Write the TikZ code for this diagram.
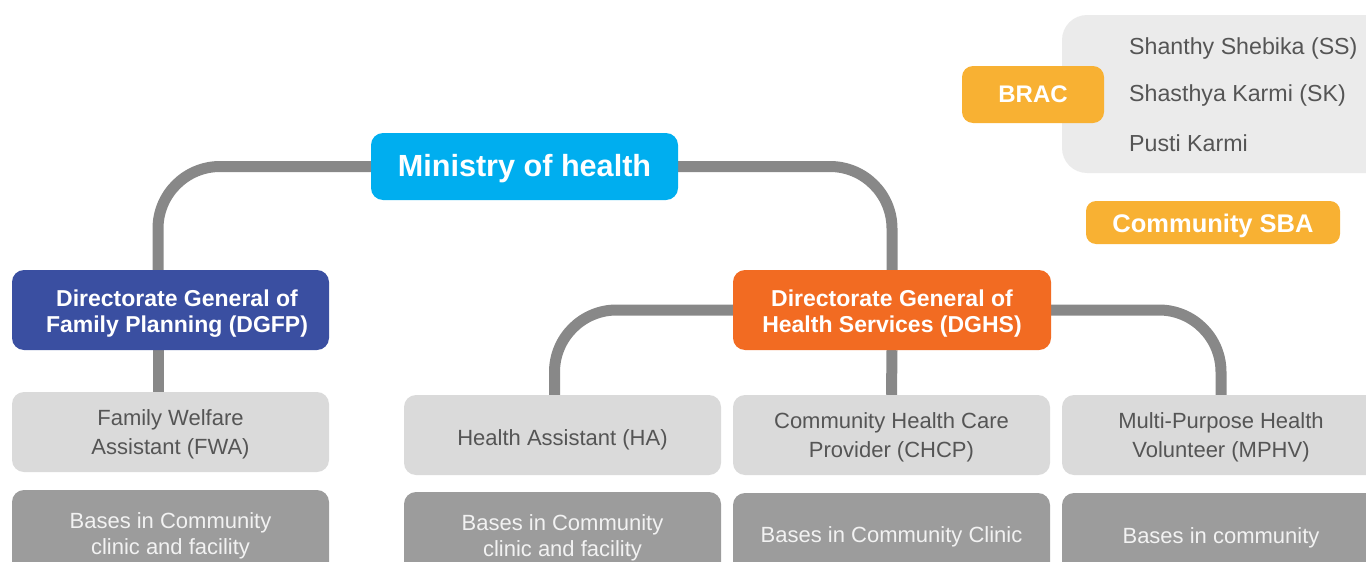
\documentclass[tikz,border=0pt]{standalone}
\usepackage{fontspec}
\setmainfont{Liberation Sans}
\usetikzlibrary{backgrounds}

\definecolor{mohcyan}{HTML}{00AEEF}
\definecolor{fpblue}{HTML}{3A4FA1}
\definecolor{hsorange}{HTML}{F26B22}
\definecolor{bracgold}{HTML}{F8B133}
\definecolor{rolegray}{HTML}{DADADA}
\definecolor{basegray}{HTML}{9C9C9C}
\definecolor{panelgray}{HTML}{EBEBEB}
\definecolor{linkgray}{HTML}{888888}
\definecolor{roletext}{HTML}{555555}
\definecolor{basetext}{HTML}{F2F2F2}

% a taller first line, which lowers the text in its box by #1
\newcommand{\lowerby}[1]{\rule{0pt}{\dimexpr0.74em+2\dimexpr#1\relax\relax}}

\tikzset{
  box/.style={rectangle, rounded corners=12pt, inner sep=0pt, align=center,
    minimum width=317pt},
  head/.style={box, minimum height=80pt, text=white,
    font=\fontsize{23}{26}\selectfont\bfseries},
  role/.style={box, fill=rolegray, minimum height=80pt, text=roletext,
    font=\fontsize{22}{29}\selectfont},
  base/.style={box, fill=basegray, minimum height=84pt, text=basetext,
    font=\fontsize{22}{26}\selectfont},
  tag/.style={rectangle, rounded corners=11pt, inner sep=0pt, fill=bracgold,
    text=white},
  item/.style={anchor=west, inner sep=0pt, text=roletext,
    font=\fontsize{23.2}{27}\selectfont},
  link/.style={draw=linkgray, line width=11pt, rounded corners=62pt},
}

\begin{document}
\begin{tikzpicture}[x=1pt, y=-1pt]
  \useasboundingbox (0,0) rectangle (1366,562);
  \clip (0,0) rectangle (1366,562);

  % top level
  \node[box, fill=mohcyan, minimum width=307pt, minimum height=67pt, text=white,
        font=\fontsize{30.6}{36}\selectfont\bfseries] (moh) at (524.5,166.5) {\lowerby{2pt}Ministry of health};

  % directorates
  \node[head, fill=fpblue] (dgfp) at (170.5,310)
    {\lowerby{3pt}\hspace*{13pt}Directorate General of\\\hspace*{13pt}Family Planning (DGFP)};
  \node[head, fill=hsorange, minimum width=318pt] (dghs) at (892,310)
    {\lowerby{3pt}Directorate General of\\Health Services (DGHS)};

  % field workers
  \node[role] (fwa)  at (170.5,432) {\lowerby{2.5pt}Family Welfare\\Assistant (FWA)};
  \node[role] (ha)   at (562.5,435) {\lowerby{5pt}Health Assistant (HA)};
  \node[role] (chcp) at (891.5,435) {\lowerby{2.5pt}Community Health Care\\Provider (CHCP)};
  \node[role, minimum width=318pt] (mphv) at (1221,435) {\lowerby{2.5pt}Multi-Purpose Health\\Volunteer (MPHV)};

  % where they are based
  \node[base] (fwab)  at (170.5,532) {\lowerby{3.5pt}Bases in Community\\clinic and facility};
  \node[base] (hab)   at (562.5,534) {\lowerby{3.5pt}Bases in Community\\clinic and facility};
  \node[base] (chcpb) at (891.5,535) {\lowerby{1.5pt}Bases in Community Clinic};
  \node[base, minimum width=318pt] (mphvb) at (1221,535) {\lowerby{2.5pt}Bases in community};

  % BRAC workers
  \node[rectangle, rounded corners=25pt, fill=panelgray, minimum width=338pt,
        minimum height=158pt, inner sep=0pt] (panel) at (1231,94) {};
  \node[tag, minimum width=142pt, minimum height=57pt,
        font=\fontsize{24}{28}\selectfont\bfseries] (brac) at (1033,94.5) {BRAC};
  \node[item] (ss) at (1129,49) {Shanthy Shebika (SS)};
  \node[item] (sk) at (1129,96) {Shasthya Karmi (SK)};
  \node[item] (pk) at (1129,143) {Pusti Karmi};

  \node[tag, rounded corners=10pt, minimum width=254pt, minimum height=43pt,
        font=\fontsize{25.5}{30}\selectfont\bfseries] (sba) at (1213,222.5) {\lowerby{3pt}Community SBA};

  % connectors
  \begin{scope}[on background layer]
    \draw[link] (moh.west) -| ([xshift=-12.5pt]dgfp.north);
    \draw[link] (moh.east) -| (dghs.north);
    \draw[link] ([xshift=-12.5pt]dgfp.south) -- ([xshift=-12.5pt]fwa.north);
    \draw[link] (dghs.west) -| ([xshift=-8pt]ha.north);
    \draw[link] (dghs.east) -| (mphv.north);
    \draw[link] (dghs.south) -- (chcp.north);
  \end{scope}
\end{tikzpicture}
\end{document}
